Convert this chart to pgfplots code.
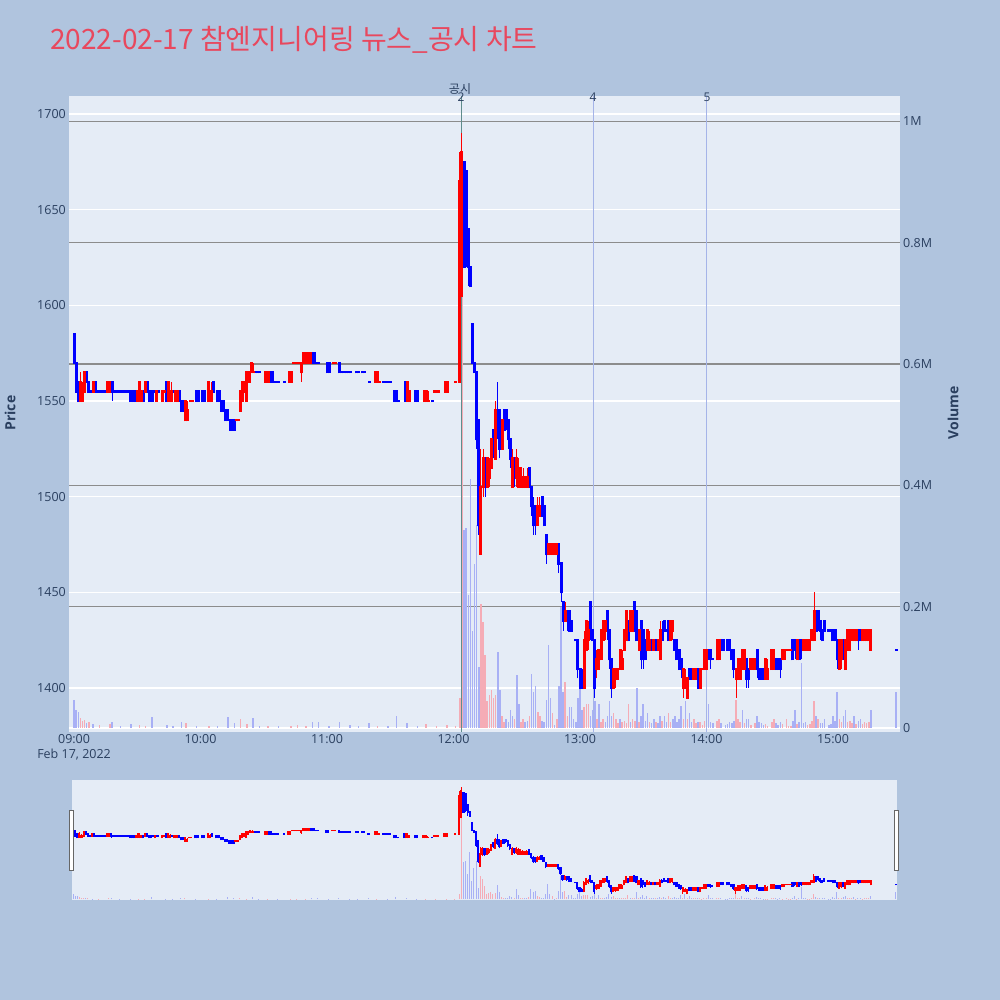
\documentclass[border=0pt]{standalone}
\usepackage{fontspec}
\setmainfont{Open Sans}
\newfontfamily\cjk{Noto Sans CJK KR}
\usepackage{pgfplots}
\usepackage{pgfplotstable}
\pgfplotsset{compat=1.18}
\definecolor{pagebg}{RGB}{176,196,222}
\definecolor{plotbg}{RGB}{229,236,246}
\definecolor{txt}{RGB}{42,63,95}
\definecolor{ttl}{RGB}{232,72,94}
\definecolor{upc}{RGB}{255,0,0}
\definecolor{dnc}{RGB}{0,0,255}
\definecolor{volup}{RGB}{245,172,182}
\definecolor{voldn}{RGB}{168,176,245}
\definecolor{vgrid}{RGB}{140,140,140}
\definecolor{evtwo}{RGB}{95,140,140}
\definecolor{evc}{RGB}{165,180,232}

\pgfplotstableread{
t o h l c d
0 1585 1585 1570 1570 0
1 1570 1570 1555 1555 0
2 1560 1560 1550 1550 0
3 1550 1565 1550 1560 1
4 1550 1560 1550 1555 1
5 1555 1565 1555 1565 1
6 1565 1565 1560 1560 0
7 1560 1560 1555 1555 0
8 1555 1555 1555 1555 0
9 1555 1560 1555 1560 1
10 1560 1560 1555 1555 0
11 1555 1555 1555 1555 0
12 1555 1555 1555 1555 0
13 1555 1555 1555 1555 0
14 1555 1555 1555 1555 0
15 1555 1555 1555 1555 0
16 1555 1560 1555 1560 1
17 1555 1560 1555 1560 1
18 1560 1560 1550 1555 0
19 1555 1555 1555 1555 0
20 1555 1555 1555 1555 0
21 1555 1555 1555 1555 0
22 1555 1555 1555 1555 0
23 1555 1555 1555 1555 0
24 1555 1555 1555 1555 0
25 1555 1555 1555 1555 0
26 1555 1555 1555 1555 0
27 1555 1555 1550 1550 0
28 1555 1555 1550 1550 0
29 1555 1555 1550 1550 0
30 1550 1555 1550 1555 1
31 1550 1560 1550 1560 1
32 1550 1555 1550 1555 1
33 1555 1555 1550 1550 0
34 1555 1560 1555 1560 1
35 1560 1560 1555 1555 0
36 1555 1555 1550 1550 0
37 1555 1555 1550 1550 0
38 1555 1555 1555 1555 0
39 1550 1555 1550 1555 1
40 1555 1555 1555 1555 0
42 1550 1555 1550 1555 1
43 1555 1555 1555 1555 1
44 1560 1560 1550 1550 0
45 1550 1560 1550 1560 1
46 1550 1560 1550 1555 1
47 1555 1555 1555 1555 0
48 1550 1555 1550 1555 1
49 1550 1555 1550 1555 1
50 1555 1555 1550 1550 0
51 1550 1550 1545 1545 0
52 1550 1550 1545 1545 0
53 1540 1550 1540 1550 1
54 1540 1550 1540 1545 1
55 1550 1550 1550 1550 1
56 1550 1550 1550 1550 1
58 1555 1555 1550 1550 0
59 1555 1555 1550 1550 0
61 1555 1555 1550 1550 0
62 1555 1555 1550 1550 0
64 1550 1560 1550 1560 1
65 1550 1560 1550 1555 1
66 1560 1560 1555 1555 0
68 1555 1555 1550 1550 0
69 1555 1555 1550 1550 0
70 1550 1550 1545 1545 0
71 1550 1550 1545 1545 0
72 1545 1545 1540 1540 0
73 1545 1545 1540 1540 0
74 1540 1540 1535 1535 0
75 1540 1540 1535 1535 0
76 1540 1540 1535 1535 0
77 1540 1540 1540 1540 1
78 1540 1540 1540 1540 1
79 1545 1555 1545 1555 1
80 1550 1560 1550 1560 1
81 1555 1560 1555 1560 1
82 1550 1565 1550 1565 1
83 1560 1565 1560 1565 1
84 1565 1570 1565 1570 1
85 1565 1570 1565 1565 1
86 1565 1565 1565 1565 0
87 1565 1565 1565 1565 0
88 1565 1565 1565 1565 0
91 1560 1565 1560 1565 1
92 1560 1565 1560 1565 1
93 1565 1565 1560 1560 0
94 1565 1565 1560 1560 0
95 1560 1560 1560 1560 0
96 1560 1560 1560 1560 0
97 1560 1560 1560 1560 0
100 1560 1560 1560 1560 0
102 1560 1565 1560 1565 1
103 1560 1565 1560 1565 1
104 1570 1570 1570 1570 1
105 1570 1570 1570 1570 1
106 1570 1570 1570 1570 1
107 1570 1570 1570 1570 1
108 1565 1570 1560 1570 1
109 1570 1575 1570 1575 1
110 1570 1575 1570 1575 1
111 1570 1575 1570 1575 1
112 1570 1575 1570 1575 1
113 1575 1575 1570 1570 0
114 1575 1575 1570 1570 0
115 1570 1570 1570 1570 0
116 1570 1570 1570 1570 0
120 1570 1570 1565 1565 0
121 1570 1570 1565 1565 0
123 1570 1570 1570 1570 1
124 1570 1570 1570 1570 1
126 1570 1570 1565 1565 0
127 1565 1565 1565 1565 0
128 1565 1565 1565 1565 0
129 1565 1565 1565 1565 0
130 1565 1565 1565 1565 0
131 1565 1565 1565 1565 0
134 1565 1565 1565 1565 0
135 1565 1565 1565 1565 0
137 1565 1565 1565 1565 0
138 1565 1565 1565 1565 0
140 1560 1560 1560 1560 0
143 1560 1565 1560 1565 1
144 1560 1565 1560 1565 1
145 1560 1560 1560 1560 1
147 1560 1560 1560 1560 0
148 1560 1560 1560 1560 0
149 1560 1560 1560 1560 0
150 1560 1560 1560 1560 0
152 1555 1555 1550 1550 0
153 1555 1555 1550 1550 0
154 1550 1550 1550 1550 0
157 1560 1560 1550 1550 0
158 1550 1560 1550 1560 1
159 1550 1555 1550 1555 1
162 1555 1555 1550 1550 0
163 1555 1555 1550 1550 0
166 1550 1555 1550 1555 1
167 1550 1555 1550 1555 1
168 1550 1555 1550 1550 1
170 1550 1550 1550 1550 0
171 1555 1555 1555 1555 1
172 1555 1555 1555 1555 1
173 1555 1555 1555 1555 1
176 1555 1560 1555 1560 1
177 1555 1560 1555 1560 1
181 1560 1560 1560 1560 1
183 1560 1680 1560 1665 1
184 1605 1690 1605 1680 1
185 1675 1675 1620 1620 0
186 1670 1670 1620 1625 0
187 1640 1640 1610 1620 0
188 1620 1620 1610 1610 0
189 1590 1590 1570 1570 0
190 1570 1570 1565 1565 0
191 1565 1565 1525 1530 0
192 1540 1540 1480 1485 0
193 1470 1525 1470 1505 1
194 1505 1525 1500 1520 1
195 1520 1520 1500 1505 0
196 1505 1520 1505 1520 1
197 1510 1520 1505 1515 1
198 1515 1530 1515 1530 1
199 1535 1535 1520 1525 0
200 1520 1550 1520 1545 1
201 1545 1560 1530 1535 0
202 1545 1545 1520 1525 0
203 1525 1540 1525 1540 1
204 1545 1545 1535 1535 0
205 1545 1545 1535 1540 0
206 1540 1540 1525 1530 0
207 1530 1530 1515 1520 0
208 1505 1525 1505 1520 1
209 1520 1520 1505 1510 0
210 1510 1525 1505 1520 1
211 1505 1520 1505 1515 1
212 1505 1515 1505 1515 1
213 1505 1515 1505 1510 1
214 1505 1510 1505 1510 1
215 1505 1515 1505 1510 1
216 1515 1515 1505 1505 0
217 1505 1505 1490 1495 0
218 1495 1500 1480 1485 0
219 1495 1495 1480 1485 0
220 1485 1500 1485 1495 1
221 1490 1500 1490 1495 1
222 1500 1500 1490 1490 0
223 1495 1495 1485 1485 0
224 1480 1480 1465 1470 0
225 1470 1475 1470 1475 1
226 1470 1475 1470 1475 1
227 1470 1475 1470 1475 1
228 1470 1475 1470 1475 1
229 1470 1475 1470 1475 1
230 1475 1475 1460 1465 0
231 1465 1465 1445 1450 0
232 1445 1445 1430 1435 0
233 1435 1445 1435 1440 1
234 1440 1440 1430 1435 0
235 1440 1440 1430 1430 0
236 1435 1435 1430 1430 0
238 1425 1425 1425 1425 0
239 1425 1425 1405 1410 0
240 1410 1410 1400 1400 0
241 1405 1410 1400 1400 0
242 1400 1430 1400 1425 1
243 1420 1435 1420 1435 1
244 1425 1435 1420 1430 1
245 1445 1445 1425 1430 0
246 1430 1430 1425 1425 0
247 1425 1425 1395 1400 0
248 1410 1420 1405 1415 1
249 1410 1420 1410 1420 1
250 1415 1430 1415 1430 1
251 1425 1435 1425 1435 1
252 1430 1435 1425 1435 1
253 1440 1440 1425 1430 0
254 1430 1430 1410 1415 0
255 1415 1415 1395 1400 0
256 1400 1410 1400 1410 1
257 1405 1410 1400 1410 1
258 1405 1410 1405 1410 1
259 1410 1420 1410 1420 1
260 1410 1420 1410 1415 1
261 1420 1430 1420 1430 1
262 1425 1440 1425 1440 1
263 1435 1435 1425 1425 0
264 1430 1440 1430 1440 1
265 1430 1440 1430 1440 1
266 1445 1445 1430 1430 0
267 1440 1440 1425 1425 0
268 1420 1430 1420 1430 1
269 1435 1435 1410 1415 0
270 1430 1430 1410 1420 0
271 1425 1425 1415 1415 0
272 1420 1430 1420 1430 1
273 1420 1430 1420 1425 1
274 1425 1425 1420 1420 0
275 1420 1425 1420 1425 1
276 1425 1425 1420 1420 0
277 1420 1425 1420 1425 1
278 1415 1435 1415 1430 1
279 1430 1435 1425 1425 0
280 1435 1435 1430 1430 0
281 1430 1430 1430 1430 0
282 1435 1435 1425 1425 0
283 1425 1435 1425 1435 1
284 1430 1435 1425 1435 1
285 1425 1425 1420 1420 0
286 1425 1425 1415 1415 0
287 1420 1420 1410 1410 0
288 1415 1415 1405 1410 0
289 1400 1410 1395 1410 1
290 1400 1410 1400 1405 1
291 1395 1405 1395 1405 1
292 1410 1410 1405 1405 0
293 1410 1410 1405 1405 0
294 1405 1410 1405 1410 1
295 1405 1410 1405 1410 1
296 1410 1410 1400 1400 0
297 1400 1410 1400 1410 1
298 1410 1410 1410 1410 1
299 1410 1420 1410 1420 1
300 1410 1420 1410 1420 1
301 1420 1420 1415 1415 0
302 1420 1420 1410 1415 0
303 1415 1415 1415 1415 0
305 1415 1425 1415 1425 1
306 1415 1425 1415 1425 1
307 1425 1425 1420 1420 0
308 1425 1425 1420 1420 0
310 1425 1425 1420 1420 0
311 1425 1425 1420 1420 0
312 1420 1420 1415 1415 0
313 1420 1420 1405 1410 0
314 1405 1410 1395 1410 1
315 1405 1415 1405 1415 1
316 1405 1415 1405 1415 1
317 1410 1420 1410 1420 1
318 1410 1420 1410 1420 1
319 1415 1415 1400 1405 0
320 1410 1410 1400 1405 0
321 1410 1415 1410 1415 1
322 1410 1415 1410 1415 1
323 1410 1415 1410 1415 1
324 1420 1420 1405 1410 0
325 1410 1410 1405 1405 0
326 1410 1410 1405 1405 0
327 1410 1410 1405 1405 0
328 1405 1415 1405 1415 1
329 1405 1415 1405 1410 1
331 1410 1420 1410 1420 1
332 1410 1420 1410 1420 1
333 1415 1415 1410 1410 0
334 1415 1415 1410 1410 0
335 1415 1415 1405 1410 0
336 1415 1420 1415 1420 1
337 1415 1420 1415 1420 1
338 1420 1420 1420 1420 1
339 1420 1420 1420 1420 1
340 1420 1420 1420 1420 1
341 1425 1425 1415 1415 0
342 1425 1425 1415 1420 0
343 1415 1425 1415 1425 1
344 1425 1425 1415 1415 0
345 1425 1425 1415 1420 0
346 1420 1425 1420 1425 1
347 1420 1425 1420 1425 1
348 1420 1425 1420 1425 1
349 1420 1425 1420 1425 1
350 1425 1430 1425 1430 1
351 1425 1450 1425 1440 1
352 1440 1440 1430 1430 0
353 1440 1440 1430 1435 0
354 1435 1435 1425 1430 0
355 1430 1430 1425 1425 0
356 1435 1435 1430 1430 0
358 1430 1430 1430 1430 0
359 1430 1430 1430 1430 0
360 1430 1430 1425 1425 0
361 1430 1430 1425 1425 0
362 1425 1425 1410 1415 0
363 1410 1425 1410 1425 1
364 1415 1425 1410 1425 1
365 1425 1425 1415 1415 0
366 1410 1425 1410 1425 1
367 1420 1430 1420 1430 1
368 1420 1430 1420 1430 1
369 1425 1430 1425 1430 1
370 1425 1430 1425 1430 1
371 1425 1430 1425 1430 1
372 1430 1430 1420 1425 0
373 1430 1430 1425 1425 0
374 1425 1430 1425 1430 1
375 1425 1430 1425 1430 1
376 1425 1430 1425 1430 1
377 1425 1430 1425 1430 1
378 1420 1430 1420 1430 1
390 1420 1420 1420 1420 0
}\candles

\pgfplotstableread{
t v d
0 0.046 0
1 0.030 0
2 0.026 0
3 0.016 1
4 0.012 1
5 0.013 1
6 0.008 0
7 0.010 1
9 0.006 0
12 0.005 1
17 0.007 1
18 0.010 0
22 0.003 0
27 0.006 0
31 0.005 1
34 0.004 1
37 0.018 0
44 0.005 0
47 0.003 0
51 0.010 0
53 0.008 1
58 0.004 0
64 0.004 1
68 0.003 0
73 0.018 0
76 0.008 0
79 0.015 1
82 0.006 1
85 0.017 0
88 0.004 0
92 0.004 1
97 0.003 0
103 0.004 1
106 0.005 1
110 0.004 1
113 0.010 0
116 0.010 0
121 0.004 0
126 0.010 0
131 0.005 0
135 0.003 0
140 0.008 0
144 0.004 1
149 0.003 0
153 0.020 0
158 0.008 0
163 0.004 0
167 0.006 1
172 0.004 1
177 0.005 1
181 0.003 1
183 0.050 1
184 0.720 1
185 0.326 0
186 0.330 0
187 0.220 0
188 0.410 0
189 0.160 0
190 0.270 0
191 0.335 0
192 0.100 0
193 0.205 1
194 0.175 1
195 0.120 1
196 0.045 1
197 0.055 1
198 0.062 1
199 0.050 1
200 0.055 1
201 0.126 0
202 0.062 0
203 0.020 1
204 0.010 1
205 0.015 0
206 0.010 0
207 0.030 0
208 0.020 0
209 0.015 1
210 0.087 0
211 0.040 0
212 0.010 1
213 0.015 1
214 0.010 0
215 0.012 0
216 0.020 1
217 0.089 0
218 0.060 0
219 0.070 0
220 0.027 1
221 0.020 1
222 0.012 0
223 0.010 0
224 0.046 0
225 0.137 0
226 0.050 0
227 0.025 1
228 0.005 0
229 0.015 1
230 0.070 0
231 0.200 0
232 0.060 0
233 0.076 1
234 0.020 1
235 0.035 0
236 0.035 0
237 0.015 0
238 0.010 0
239 0.050 0
240 0.075 0
241 0.030 0
242 0.035 1
243 0.040 1
244 0.040 1
245 0.020 0
246 0.030 0
247 0.045 0
248 0.015 1
249 0.040 0
250 0.010 1
251 0.015 1
252 0.010 0
253 0.020 0
254 0.045 0
255 0.020 0
256 0.025 1
257 0.015 1
258 0.008 1
259 0.015 0
260 0.010 1
261 0.012 1
262 0.008 1
263 0.040 1
264 0.010 0
265 0.015 1
266 0.012 1
267 0.066 0
268 0.010 1
269 0.020 0
270 0.040 0
271 0.012 0
272 0.025 0
273 0.010 1
274 0.008 0
275 0.015 0
276 0.010 1
277 0.008 0
278 0.020 0
279 0.012 1
280 0.020 0
281 0.010 0
282 0.025 1
283 0.010 1
284 0.015 0
285 0.020 0
286 0.010 0
287 0.015 0
288 0.037 0
289 0.015 1
290 0.045 0
291 0.015 1
292 0.025 0
293 0.010 0
294 0.015 1
295 0.008 1
296 0.010 0
297 0.010 1
298 0.005 1
299 0.012 1
300 0.010 1
301 0.040 0
302 0.010 0
303 0.008 0
305 0.012 1
306 0.015 1
307 0.008 0
309 0.005 0
310 0.006 0
311 0.010 0
312 0.008 0
313 0.012 0
314 0.046 1
315 0.015 1
316 0.010 1
317 0.030 0
318 0.008 1
319 0.015 0
320 0.015 0
321 0.005 1
323 0.008 1
324 0.020 0
325 0.010 0
326 0.008 0
327 0.005 0
328 0.006 1
329 0.004 1
331 0.010 1
332 0.015 1
333 0.008 0
334 0.005 0
335 0.010 0
336 0.006 1
338 0.015 1
339 0.004 1
340 0.004 1
341 0.012 0
342 0.030 0
343 0.006 1
344 0.010 0
345 0.107 0
346 0.008 0
347 0.010 0
348 0.005 1
349 0.006 1
350 0.012 1
351 0.045 1
352 0.020 0
353 0.015 1
354 0.008 0
355 0.008 0
356 0.015 0
358 0.005 0
359 0.006 0
360 0.020 0
361 0.012 0
362 0.060 0
363 0.015 1
364 0.010 1
365 0.020 0
366 0.030 0
367 0.010 1
368 0.012 1
369 0.008 1
370 0.020 0
371 0.006 1
372 0.012 0
373 0.015 0
374 0.006 1
375 0.010 1
376 0.008 1
377 0.010 1
378 0.030 0
390 0.060 0
}\vols

% build one jump-separated path per colour from the candle table
\def\wup{}\def\wdn{}\def\bup{}\def\bdn{}\def\sup{}\def\sdn{}
\pgfplotstablegetrowsof{\candles}
\pgfmathtruncatemacro\lastrow{\pgfplotsretval-1}
\foreach \i in {0,...,\lastrow}{%
  \pgfplotstablegetelem{\i}{t}\of\candles\let\ct\pgfplotsretval
  \pgfplotstablegetelem{\i}{o}\of\candles\let\co\pgfplotsretval
  \pgfplotstablegetelem{\i}{h}\of\candles\let\ch\pgfplotsretval
  \pgfplotstablegetelem{\i}{l}\of\candles\let\cl\pgfplotsretval
  \pgfplotstablegetelem{\i}{c}\of\candles\let\cc\pgfplotsretval
  \pgfplotstablegetelem{\i}{d}\of\candles\let\cd\pgfplotsretval
  \pgfmathsetmacro\blo{min(\co,\cc)-0.6}%
  \pgfmathsetmacro\bhi{max(\co,\cc)+0.6}%
  \pgfmathsetmacro\slo{min(\co,\cc)-2.2}%
  \pgfmathsetmacro\shi{max(\co,\cc)+2.2}%
  \ifnum\cd=1
    \xdef\wup{\wup(\ct,\cl)(\ct,\ch)(\ct,nan)}%
    \xdef\bup{\bup(\ct,\blo)(\ct,\bhi)(\ct,nan)}%
    \xdef\sup{\sup(\ct,\slo)(\ct,\shi)(\ct,nan)}%
  \else
    \xdef\wdn{\wdn(\ct,\cl)(\ct,\ch)(\ct,nan)}%
    \xdef\bdn{\bdn(\ct,\blo)(\ct,\bhi)(\ct,nan)}%
    \xdef\sdn{\sdn(\ct,\slo)(\ct,\shi)(\ct,nan)}%
  \fi
}

\newcommand\segplot[3]{% colour, line width, list
  \edef\tmpplot{\noexpand\addplot[#1, line width=#2, unbounded coords=jump, mark=none, forget plot] coordinates {#3};}%
  \tmpplot}

\pgfplotsset{
  ticktext/.style={font=\fontsize{12.5pt}{15pt}\selectfont, text=txt},
}

\begin{document}
\begin{tikzpicture}[x=1pt,y=1pt]
\fill[pagebg] (0,0) rectangle (1000,1000);
\path[use as bounding box] (0,0) rectangle (1000,1000);

% ---------- main: background, price grid, tick labels
\begin{axis}[at={(69pt,268pt)}, anchor=south west, scale only axis,
  width=831pt, height=636pt,
  xmin=-2.4, xmax=391.8, ymin=1377, ymax=1709.4,
  axis background/.style={fill=plotbg},
  axis line style={draw=none}, major tick length=0pt,
  ymajorgrids, major grid style={white, line width=1.3pt},
  ytick={1400,1450,1500,1550,1600,1650,1700},
  yticklabels={1400,1450,1500,1550,1600,1650,1700},
  xtick={0,60,120,180,240,300,360},
  xticklabels={{09:00\\Feb 17, 2022},10:00,11:00,12:00,13:00,14:00,15:00},
  xticklabel style={ticktext, align=center, inner sep=2pt},
  yticklabel style={ticktext, inner sep=3pt},
]
\addplot[draw=none, forget plot] coordinates {(0,1400)};
\end{axis}

% ---------- main: volume axis
\begin{axis}[at={(69pt,268pt)}, anchor=south west, scale only axis,
  width=831pt, height=636pt,
  xmin=-2.4, xmax=391.8, ymin=-0.0066, ymax=1.042,
  axis line style={draw=none}, major tick length=0pt,
  xtick=\empty,
  ymajorgrids, major grid style={vgrid, line width=1.2pt},
  ytick={0.2,0.4,0.6,0.8,1},
  yticklabels={0.2M,0.4M,0.6M,0.8M,1M},
  yticklabel pos=right,
  yticklabel style={ticktext, inner sep=3pt},
  extra y ticks={0}, extra y tick labels={0},
  extra y tick style={ymajorgrids=false},
]
\addplot[white, line width=2pt, forget plot] coordinates {(-2.4,0) (391.8,0)};
\addplot[ycomb, voldn, line width=1.5pt, mark=none,
  restrict expr to domain={\thisrow{d}}{-0.5:0.5}] table[x=t, y=v] {\vols};
\addplot[ycomb, volup, line width=1.5pt, mark=none,
  restrict expr to domain={\thisrow{d}}{0.5:1.5}] table[x=t, y=v] {\vols};
\end{axis}

% ---------- main: candles and event lines
\begin{axis}[at={(69pt,268pt)}, anchor=south west, scale only axis,
  width=831pt, height=636pt,
  xmin=-2.4, xmax=391.8, ymin=1377, ymax=1709.4, hide axis, clip=true]
\addplot[evtwo, line width=1pt, forget plot] coordinates {(183.6,1377) (183.6,1709.4)};
\addplot[evc, line width=1pt, forget plot] coordinates {(246.2,1377) (246.2,1709.4)};
\addplot[evc, line width=1pt, forget plot] coordinates {(300.2,1377) (300.2,1709.4)};
\segplot{dnc}{1pt}{\wdn}
\segplot{upc}{1pt}{\wup}
\segplot{dnc}{3pt}{\bdn}
\segplot{upc}{3pt}{\bup}
\end{axis}

% ---------- range slider: volume
\begin{axis}[at={(72pt,100pt)}, anchor=south west, scale only axis,
  width=825pt, height=120pt,
  xmin=-0.5, xmax=390.5, ymin=-0.0066, ymax=1.042,
  axis background/.style={fill=plotbg},
  axis line style={draw=none}, major tick length=0pt,
  xtick=\empty, ytick=\empty]
\addplot[ycomb, voldn, line width=1pt, mark=none,
  restrict expr to domain={\thisrow{d}}{-0.5:0.5}] table[x=t, y=v] {\vols};
\addplot[ycomb, volup, line width=1pt, mark=none,
  restrict expr to domain={\thisrow{d}}{0.5:1.5}] table[x=t, y=v] {\vols};
\end{axis}

% ---------- range slider: candles
\begin{axis}[at={(72pt,100pt)}, anchor=south west, scale only axis,
  width=825pt, height=120pt,
  xmin=-0.5, xmax=390.5, ymin=1377, ymax=1709.4, hide axis, clip=true]
\segplot{dnc}{0.7pt}{\wdn}
\segplot{upc}{0.7pt}{\wup}
\segplot{dnc}{2.2pt}{\sdn}
\segplot{upc}{2.2pt}{\sup}
\end{axis}

% slider handles
\draw[fill=white, draw=black!60, line width=0.8pt] (69.5,130) rectangle (73,190);
\draw[fill=white, draw=black!60, line width=0.8pt] (894.5,130) rectangle (898,190);

% titles and labels
\node[anchor=west, text=ttl, inner sep=0pt] at (50,960) {\cjk\fontsize{28pt}{33pt}\selectfont 2022-02-17 참엔지니어링 뉴스\_공시 차트};
\node[rotate=90, text=txt, inner sep=0pt] at (10,587) {\fontsize{14pt}{16pt}\selectfont\bfseries Price};
\node[rotate=90, text=txt, inner sep=0pt] at (953,587) {\fontsize{14pt}{16pt}\selectfont\bfseries Volume};
\node[text=txt, inner sep=0pt] at (460,911) {\cjk\fontsize{12pt}{14pt}\selectfont 공시};
\node[text=txt, inner sep=0pt] at (461,903) {\fontsize{12pt}{14pt}\selectfont 2};
\node[text=txt, inner sep=0pt] at (593,903) {\fontsize{12pt}{14pt}\selectfont 4};
\node[text=txt, inner sep=0pt] at (707,903) {\fontsize{12pt}{14pt}\selectfont 5};
\end{tikzpicture}
\end{document}
